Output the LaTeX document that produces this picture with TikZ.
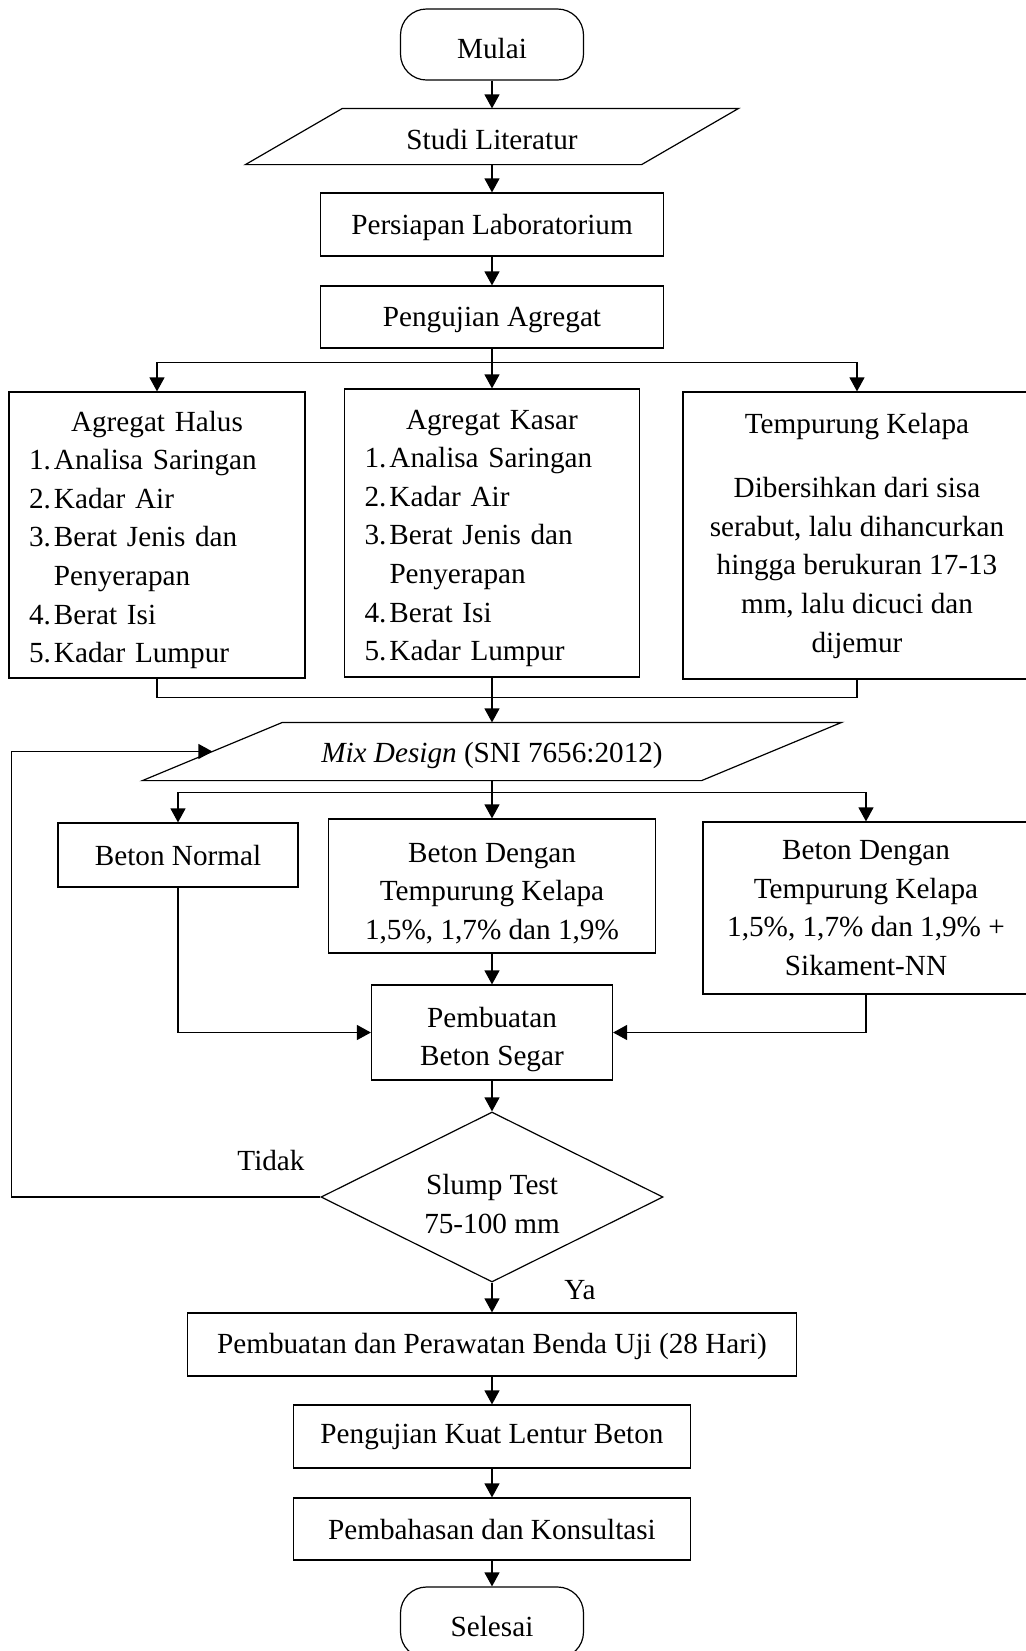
\documentclass[tikz,border=0pt]{standalone}
\usepackage{fontspec}
\setmainfont{Liberation Serif}
\usetikzlibrary{arrows.meta,shapes.geometric}

\begin{document}
\begin{tikzpicture}[x=0.5pt,y=0.5pt,line width=0.6pt,font=\fontsize{14.6}{19.3}\selectfont]
\tikzstyle{every node}+=[inner sep=2pt]
\tikzstyle{proses}=[draw, rectangle, align=center]
\tikzstyle{terminal}=[draw, rectangle, rounded corners=13pt, minimum width=91.5pt, minimum height=35.5pt, text height=14pt, text depth=0pt]
\tikzstyle{daftar}=[draw, rectangle, align=left, inner xsep=10pt]
\tikzstyle{keputusan}=[draw, diamond, aspect=2, inner sep=0pt, align=center]
\tikzstyle{panah}=[-{Triangle[length=7pt,width=7.5pt]}]
\useasboundingbox (0,0) rectangle (1025,-1651);

% awal
\node[terminal] (mulai) at (492,-44.5) {Mulai};
\node[minimum width=197.5pt, minimum height=27.5pt] (studi) at (492,-136.5) {\rule{0pt}{13pt}Studi Literatur};
\draw ([xshift=24.25pt]studi.north west) -- ([xshift=24.25pt]studi.north east) -- ([xshift=-24.25pt]studi.south east) -- ([xshift=-24.25pt]studi.south west) -- cycle;
\node[proses, minimum width=171.5pt, minimum height=31.5pt] (persiapan) at (492,-224.5) {\rule{0pt}{13pt}Persiapan Laboratorium};
\node[proses, minimum width=171.5pt, minimum height=31pt] (agregat) at (492,-317) {\rule{0pt}{13pt}Pengujian Agregat};

% pengujian material
\node[daftar, text width=128pt, minimum height=143pt] (halus) at (157,-535) {{\centering\rule{0pt}{15pt}Agregat Halus\par}
\makebox[12.5pt][l]{1.}Analisa Saringan\\
\makebox[12.5pt][l]{2.}Kadar Air\\
\makebox[12.5pt][l]{3.}Berat Jenis dan\\
\hspace*{12.5pt}Penyerapan\\
\makebox[12.5pt][l]{4.}Berat Isi\\
\makebox[12.5pt][l]{5.}Kadar Lumpur};
\node[daftar, text width=127.5pt, minimum height=144pt] (kasar) at (492,-533) {{\centering\rule{0pt}{15pt}Agregat Kasar\par}
\makebox[12.5pt][l]{1.}Analisa Saringan\\
\makebox[12.5pt][l]{2.}Kadar Air\\
\makebox[12.5pt][l]{3.}Berat Jenis dan\\
\hspace*{12.5pt}Penyerapan\\
\makebox[12.5pt][l]{4.}Berat Isi\\
\makebox[12.5pt][l]{5.}Kadar Lumpur};
\node[proses, minimum width=174pt, minimum height=143.5pt] (tempurung) at (857,-535.5) {Tempurung Kelapa\\[13pt]
Dibersihkan dari sisa\\ serabut, lalu dihancurkan\\ hingga berukuran 17-13\\ mm, lalu dicuci dan\\ dijemur};

% mix design
\node[minimum width=279pt, minimum height=28.5pt] (mix) at (492,-751.5) {\rule{0pt}{14pt}\textit{Mix Design} (SNI 7656:2012)};
\draw ([xshift=35pt]mix.north west) -- ([xshift=35pt]mix.north east) -- ([xshift=-35pt]mix.south east) -- ([xshift=-35pt]mix.south west) -- cycle;

% variasi beton
\node[proses, minimum width=120pt, minimum height=32pt] (normal) at (178,-855) {Beton Normal};
\node[proses, minimum width=163.5pt, minimum height=67pt] (dengan) at (492,-886) {\rule{0pt}{17pt}Beton Dengan\\ Tempurung Kelapa\\ 1,5\%, 1,7\% dan 1,9\%};
\node[proses, minimum width=163pt, minimum height=86pt] (sika) at (866,-908) {Beton Dengan\\ Tempurung Kelapa\\ 1,5\%, 1,7\% dan 1,9\% +\\ Sikament-NN};
\node[proses, minimum width=120.5pt, minimum height=47.5pt] (segar) at (492,-1032.5) {\rule{0pt}{17pt}Pembuatan\\ Beton Segar};
\node[keputusan, minimum width=171pt, minimum height=85pt] (slump) at (492,-1197) {\rule{0pt}{17pt}Slump Test\\ 75-100 mm};
\node (tidak) at (271,-1160) {Tidak};
\node (ya) at (580,-1290) {Ya};

% akhir
\node[proses, minimum width=304.5pt, minimum height=31.5pt] (benda) at (492,-1344.5) {\rule{0pt}{12pt}Pembuatan dan Perawatan Benda Uji (28 Hari)};
\node[proses, minimum width=198.5pt, minimum height=31.5pt] (lentur) at (492,-1436.5) {Pengujian Kuat Lentur Beton};
\node[proses, minimum width=198.5pt, minimum height=31pt] (bahas) at (492,-1529) {Pembahasan dan Konsultasi};
\node[terminal] (selesai) at (492,-1622.5) {Selesai};

% panah
\draw[panah] (mulai) -- (studi);
\draw[panah] (studi) -- (persiapan);
\draw[panah] (persiapan) -- (agregat);
\draw (agregat.south) -- ++(0,-14) coordinate (cabang1);
\draw[panah] (cabang1) -| (halus.north);
\draw[panah] (cabang1) -- (kasar.north);
\draw[panah] (cabang1) -| (tempurung.north);
\draw (halus.south) -- ++(0,-19) -| (tempurung.south);
\draw[panah] (kasar.south) -- (mix.north);
\draw (mix.south) -- ++(0,-12) coordinate (cabang2);
\draw[panah] (cabang2) -| (normal.north);
\draw[panah] (cabang2) -- (dengan.north);
\draw[panah] (cabang2) -| (sika.north);
\draw[panah] (dengan) -- (segar);
\draw[panah] (normal.south) |- (segar.west);
\draw[panah] (sika.south) |- (segar.east);
\draw[panah] (segar) -- (slump);
\draw[panah] (slump.west) -- ++(-309,0) |- (mix.west);
\draw[panah] (slump) -- (benda);
\draw[panah] (benda) -- (lentur);
\draw[panah] (lentur) -- (bahas);
\draw[panah] (bahas) -- (selesai);
\end{tikzpicture}
\end{document}
